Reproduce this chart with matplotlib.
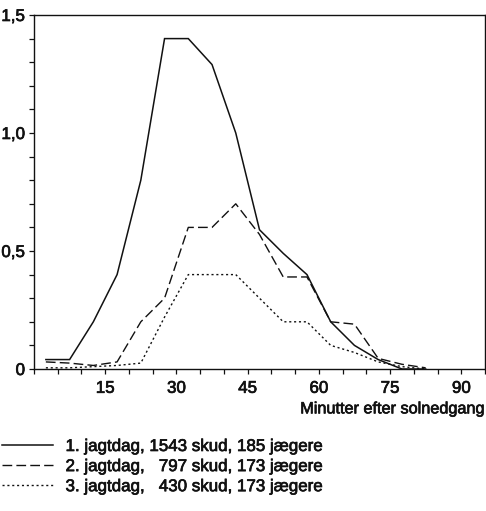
import numpy as np
import matplotlib
matplotlib.use("Agg")
import matplotlib.pyplot as plt
import matplotlib.patheffects as pe
from matplotlib.ticker import MultipleLocator

# # Data ________________________________________________________________________
minutes = [2.5, 7.5, 12.5, 17.5, 22.5, 27.5, 32.5, 37.5, 42.5, 47.5,
           52.5, 57.5, 62.5, 67.5, 72.5, 77.5, 82.5]
day1 = [0.04, 0.04, 0.2, 0.4, 0.8, 1.4, 1.4, 1.29, 1.0, 0.59,
        0.49, 0.4, 0.2, 0.1, 0.04, 0.0, 0.0]
day2 = [0.03, 0.025, 0.015, 0.03, 0.2, 0.3, 0.6, 0.6, 0.7, 0.57,
        0.39, 0.39, 0.2, 0.19, 0.045, 0.02, 0.005]
day3 = [0.005, 0.005, 0.01, 0.015, 0.025, 0.22, 0.4, 0.4, 0.4, 0.3,
        0.2, 0.2, 0.1, 0.07, 0.03, 0.01, 0.0]

labels = ["1. jagtdag, 1543 skud, 185 jægere",
          "2. jagtdag,   797 skud, 173 jægere",
          "3. jagtdag,   430 skud, 173 jægere"]
xticks = [15, 30, 45, 60, 75, 90]
yticks = [0, 0.5, 1.0, 1.5]
ytick_labels = ["0", "0,5", "1,0", "1,5"]
xlabel = "Minutter efter solnedgang"

# # Style _______________________________________________________________________
plt.rcParams["font.family"] = ["Liberation Sans", "DejaVu Sans"]
plt.rcParams["font.size"] = 12.2
ink = "#111111"
# slightly heavier text, like the printed original
heavy = [pe.withStroke(linewidth=0.5, foreground=ink)]

fig = plt.figure(figsize=(4.86, 5.11), dpi=100)
ax = fig.add_axes([34 / 486, 1 - 369 / 511, (485 - 34) / 486, (369 - 15) / 511])

l1, = ax.plot(minutes, day1, color=ink, lw=1.1, solid_joinstyle="miter")
l2, = ax.plot(minutes, day2, color=ink, lw=1.0, dashes=(7, 3.0))
l3, = ax.plot(minutes, day3, color=ink, lw=1.0, dashes=(1.5, 2.0))

ax.set_xlim(0, 95)
ax.set_ylim(0, 1.5)
ax.set_xticks(xticks)
ax.xaxis.set_minor_locator(MultipleLocator(5))
ax.set_yticks(yticks, ytick_labels)
ax.yaxis.set_minor_locator(MultipleLocator(0.1))
ax.tick_params(which="both", direction="out", length=3.5, width=0.9, color=ink,
               labelcolor=ink)
ax.tick_params(axis="y", pad=3)
ax.tick_params(axis="x", pad=5)
for s in ax.spines.values():
    s.set_linewidth(1.0)
    s.set_color(ink)

ax.set_xlabel(xlabel, color=ink, ha="right", x=1.0, labelpad=4, fontsize=11.7)

leg = fig.legend([l1, l2, l3], labels, loc="upper left",
                 bbox_to_anchor=(2 / 486, 1 - 439 / 511), frameon=False,
                 borderpad=0, borderaxespad=0, handlelength=3.0,
                 handletextpad=0.75, labelspacing=0.3, labelcolor=ink)

for t in ax.get_xticklabels() + ax.get_yticklabels() + leg.get_texts() + [ax.xaxis.label]:
    t.set_path_effects(heavy)

fig.savefig("out.png", dpi=100, facecolor="white")
